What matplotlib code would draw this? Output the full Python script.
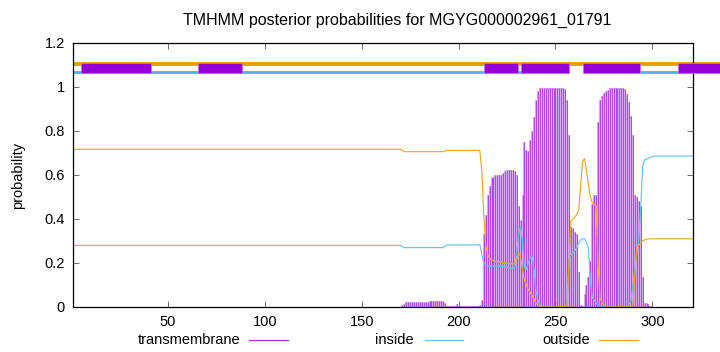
import numpy as np
import matplotlib
matplotlib.use('Agg')
import matplotlib.pyplot as plt
from matplotlib.patches import Rectangle
from matplotlib.lines import Line2D

plt.rcParams['font.family'] = ['Liberation Sans', 'DejaVu Sans']

TITLE = 'TMHMM posterior probabilities for MGYG000002961_01791'
SEQ_LEN = 321

# posterior probabilities per residue (1..321)
tm = ([0.0] * 170 + [0.01, 0.015] + [0.021] * 12 + [0.027] * 8 + [0.02]
      + [0.006] * 5 + [0.015] + [0.006] * 11
      + [0.01, 0.03, 0.33, 0.42, 0.51, 0.55, 0.585, 0.59, 0.6, 0.6, 0.6, 0.6,
         0.61, 0.62, 0.625, 0.625, 0.625, 0.625, 0.62, 0.6, 0.46, 0.395, 0.51,
         0.75, 0.715, 0.71, 0.76, 0.8, 0.865, 0.94, 0.98, 0.995]
      + [0.995] * 12
      + [0.99, 0.94, 0.78, 0.365, 0.36, 0.34, 0.33, 0.16, 0.01, 0.005, 0.06,
         0.1, 0.137, 0.21, 0.47, 0.51, 0.51, 0.84, 0.94, 0.96, 0.975, 0.98, 0.985]
      + [0.995] * 8
      + [0.99, 0.97, 0.93, 0.87, 0.78, 0.51, 0.5, 0.48, 0.46, 0.137, 0.02,
         0.018, 0.012, 0.006, 0.003]
      + [0.0] * 21)

outside = ([0.717] * 170 + [0.712] + [0.706] * 21 + [0.709] + [0.712] * 17
           + [0.71, 0.62, 0.42, 0.28, 0.24, 0.22, 0.215, 0.21, 0.207, 0.207,
              0.206, 0.205, 0.2, 0.2, 0.2, 0.199, 0.198, 0.195, 0.2, 0.215,
              0.245, 0.23, 0.17, 0.12, 0.1, 0.08, 0.065, 0.05, 0.035, 0.018,
              0.01, 0.005]
           + [0.0] * 13
           + [0.01, 0.2, 0.39, 0.4, 0.41, 0.42, 0.44, 0.55, 0.66, 0.675, 0.62,
              0.56, 0.5, 0.475, 0.467, 0.46, 0.2, 0.04, 0.02, 0.01, 0.005]
           + [0.0] * 13
           + [0.01, 0.15, 0.265, 0.28, 0.29, 0.3, 0.305, 0.308]
           + [0.31] * 24)

inside = ([0.28] * 170 + [0.275] + [0.27] * 21 + [0.276] + [0.282] * 17
          + [0.285, 0.24, 0.2, 0.19, 0.186, 0.186, 0.186, 0.186, 0.186, 0.186,
             0.186, 0.185, 0.183, 0.182, 0.18, 0.178, 0.176, 0.176, 0.18, 0.25,
             0.33, 0.365, 0.3, 0.18, 0.17, 0.2, 0.225, 0.228, 0.17, 0.07, 0.03,
             0.01]
          + [0.0] * 14
          + [0.22, 0.236, 0.245, 0.255, 0.27, 0.29, 0.305, 0.31, 0.31, 0.295,
             0.27, 0.12, 0.045, 0.03, 0.02, 0.012, 0.007, 0.004, 0.002]
          + [0.0] * 12
          + [0.01, 0.03, 0.1, 0.18, 0.244, 0.3, 0.45, 0.64, 0.668, 0.672, 0.676,
             0.68, 0.684]
          + [0.686] * 21)

# predicted topology strip at the top
tm_regions = [(5.3, 41.4), (65.6, 88.3), (213, 230.5), (232, 256.8),
              (264, 293.9), (313.5, 335)]
inside_regions = [(1, 213), (230.5, 234.2), (293.9, 321)]
outside_regions = [(1, 335)]

C_TM = '#9400d3'
C_IN = '#56b4e9'
C_OUT = '#e69f00'

pos = np.arange(1, SEQ_LEN + 1)

fig = plt.figure(figsize=(7.2, 3.52), dpi=100)
ax = fig.add_axes([73 / 720, 1 - 307 / 352, 620 / 720, 264 / 352])

ax.bar(pos, tm, width=1.0, color='#dba6f3', linewidth=0)
ax.vlines(pos, 0, tm, color='#a53ae0', linewidth=0.6)
ax.plot(pos, inside, color='#6cc0ec', lw=0.85)
ax.plot(pos, outside, color='#eaaa20', lw=0.85)

for a, b in outside_regions:
    ax.plot([a, b], [1.105, 1.105], color=C_OUT, lw=2.8, clip_on=False,
            solid_capstyle='butt')
for a, b in inside_regions:
    ax.plot([a, b], [1.067, 1.067], color=C_IN, lw=2.1, clip_on=False,
            solid_capstyle='butt')
for a, b in tm_regions:
    ax.add_patch(Rectangle((a, 1.062), b - a, 0.048, facecolor=C_TM,
                           edgecolor='#c070e8', lw=0.6, clip_on=False, zorder=5))

ax.set_xlim(1, SEQ_LEN)
ax.set_ylim(0, 1.2)
ax.set_xticks([50, 100, 150, 200, 250, 300])
ax.set_yticks([0, 0.2, 0.4, 0.6, 0.8, 1.0, 1.2])
ax.set_yticklabels(['0', '0.2', '0.4', '0.6', '0.8', '1', '1.2'])
ax.tick_params(direction='in', length=4, width=0.6, labelsize=10.5,
               top=True, right=True, color='#555555', pad=6)
for s in ax.spines.values():
    s.set_linewidth(0.9)
ax.set_ylabel('probability', fontsize=10.5, labelpad=14)

fig.text(397 / 720, 1 - 20 / 352, TITLE, ha='center', va='center', fontsize=11.5)

# legend along the bottom
leg = [('transmembrane', '#a53ae0', 240, 249, 288),
       ('inside', '#6cc0ec', 414, 425, 463),
       ('outside', '#eaaa20', 590, 599, 638)]
ly = 1 - 340 / 352
for name, col, tx, x0, x1 in leg:
    fig.text(tx / 720, ly, name, ha='right', va='center', fontsize=10.5)
    fig.add_artist(Line2D([x0 / 720, x1 / 720], [ly, ly], color=col, lw=0.9))

fig.savefig('out.png', dpi=100)
